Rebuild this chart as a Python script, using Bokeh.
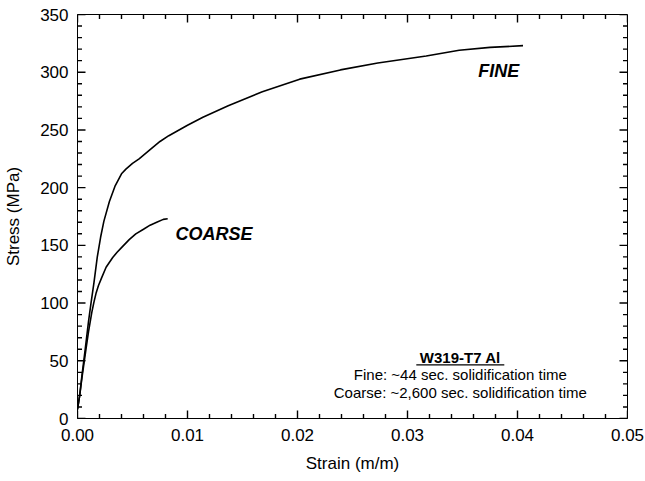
from bokeh.plotting import figure
from bokeh.models import SingleIntervalTicker, Range1d, Label, NumeralTickFormatter
from bokeh.embed import file_html
from bokeh.resources import INLINE

# ---- data ----
fine_strain = [0.0000, 0.0002, 0.0004, 0.0007, 0.0010, 0.0012, 0.0015, 0.0018,
               0.0021, 0.0024, 0.0029, 0.0034, 0.0040, 0.0044, 0.0050, 0.0056,
               0.0066, 0.0075, 0.0083, 0.0100, 0.0114, 0.0137, 0.0168, 0.0202,
               0.0239, 0.0273, 0.0317, 0.0347, 0.0375, 0.0405]
fine_stress = [8, 20, 37, 60, 84, 98, 118, 140,
               157, 171, 188, 201, 212, 216, 221, 225,
               233, 240, 245, 254, 261, 271, 283, 294,
               302, 308, 314, 319, 321.5, 323]

coarse_strain = [0.0000, 0.0002, 0.0004, 0.0008, 0.0010, 0.0013, 0.0015, 0.0017,
                 0.0019, 0.0022, 0.0026, 0.0032, 0.0036, 0.0040, 0.0047, 0.0053,
                 0.0060, 0.0066, 0.0072, 0.0078, 0.0082]
coarse_stress = [8, 20, 35, 62, 75, 92, 101, 109,
                 115, 122, 131, 139.5, 144, 148, 155, 160,
                 164, 167.5, 170, 172.5, 173]

x_range_vals = [0.0, 0.05]
y_range_vals = [0, 350]

# tick positions
x_major = [0.00, 0.01, 0.02, 0.03, 0.04, 0.05]
y_major = [0, 50, 100, 150, 200, 250, 300, 350]
x_minor = [0.002, 0.004, 0.006, 0.008, 0.012, 0.014, 0.016, 0.018,
           0.022, 0.024, 0.026, 0.028, 0.032, 0.034, 0.036, 0.038,
           0.042, 0.044, 0.046, 0.048]
y_minor = [10, 20, 30, 40, 60, 70, 80, 90, 110, 120, 130, 140,
           160, 170, 180, 190, 210, 220, 230, 240, 260, 270, 280, 290,
           310, 320, 330, 340]

title_note = "W319-T7 Al"
note_lines = ["Fine: ~44 sec. solidification time",
              "Coarse: ~2,600 sec. solidification time"]

FONT = "Liberation Sans"
FW, FH = 550, 404

p = figure(frame_width=FW, frame_height=FH,
           min_border_left=77, min_border_right=18,
           min_border_top=14, min_border_bottom=63,
           x_range=Range1d(*x_range_vals), y_range=Range1d(*y_range_vals),
           output_backend="svg", toolbar_location=None)

p.xgrid.grid_line_color = None
p.ygrid.grid_line_color = None
p.outline_line_color = "black"
p.outline_line_width = 1

p.xaxis.ticker = SingleIntervalTicker(interval=0.01, num_minor_ticks=5)
p.yaxis.ticker = SingleIntervalTicker(interval=50, num_minor_ticks=5)
p.xaxis.formatter = NumeralTickFormatter(format="0.00")
p.xaxis.axis_label = "Strain (m/m)"
p.yaxis.axis_label = "Stress (MPa)"

for ax in (p.xaxis[0], p.yaxis[0]):
    ax.major_tick_in = 0
    ax.major_tick_out = 0
    ax.minor_tick_in = 0
    ax.minor_tick_out = 0
    ax.axis_line_color = "black"
    ax.major_label_text_font = FONT
    ax.major_label_text_font_size = "17px"
    ax.major_label_text_color = "black"
    ax.axis_label_text_font = FONT
    ax.axis_label_text_font_size = "17px"
    ax.axis_label_text_font_style = "normal"
    ax.axis_label_text_color = "black"

p.xaxis.major_label_standoff = 10
p.xaxis.axis_label_standoff = 10
p.yaxis.major_label_standoff = 9
p.yaxis.axis_label_standoff = 14

# inward tick marks on all four sides, drawn as segments;
# lengths converted from pixels to data units
x0, x1 = x_range_vals
y0, y1 = y_range_vals
dx_per_px = (x1 - x0) / FW
dy_per_px = (y1 - y0) / FH
MAJ, MIN = 8, 4.5

def vticks(xs, length_px):
    L = length_px * dy_per_px
    xa = list(xs) + list(xs)
    ya0 = [y0] * len(xs) + [y1] * len(xs)
    ya1 = [y0 + L] * len(xs) + [y1 - L] * len(xs)
    p.segment(x0=xa, y0=ya0, x1=xa, y1=ya1, line_color="black", line_width=1.4)

def hticks(ys, length_px):
    L = length_px * dx_per_px
    ya = list(ys) + list(ys)
    xa0 = [x0] * len(ys) + [x1] * len(ys)
    xa1 = [x0 + L] * len(ys) + [x1 - L] * len(ys)
    p.segment(x0=xa0, y0=ya, x1=xa1, y1=ya, line_color="black", line_width=1.4)

vticks(x_major, MAJ)
vticks(x_minor, MIN)
hticks(y_major, MAJ)
hticks(y_minor, MIN)

p.line(fine_strain, fine_stress, line_color="black", line_width=1.6)
p.line(coarse_strain, coarse_stress, line_color="black", line_width=1.6)

p.add_layout(Label(x=0.0383, y=301, text="FINE", text_font=FONT,
                   text_font_size="18px", text_font_style="bold italic",
                   text_align="center", text_baseline="middle", text_color="black"))
p.add_layout(Label(x=0.0124, y=160, text="COARSE", text_font=FONT,
                   text_font_size="18px", text_font_style="bold italic",
                   text_align="center", text_baseline="middle", text_color="black"))

note_x = 0.0348
p.add_layout(Label(x=note_x, y=53.0, text=title_note, text_font=FONT,
                   text_font_size="15px", text_font_style="bold",
                   text_align="center", text_baseline="middle", text_color="black"))
for line, yy in zip(note_lines, [38.2, 22.6]):
    p.add_layout(Label(x=note_x, y=yy, text=line, text_font=FONT,
                       text_font_size="15px", text_align="center",
                       text_baseline="middle", text_color="black"))
# underline of the note title
half_w = 0.0040
p.segment(x0=[note_x - half_w], y0=[46.4], x1=[note_x + half_w], y1=[46.4],
          line_color="black", line_width=1.3)

open("out.html", "w").write(file_html(p, INLINE))
